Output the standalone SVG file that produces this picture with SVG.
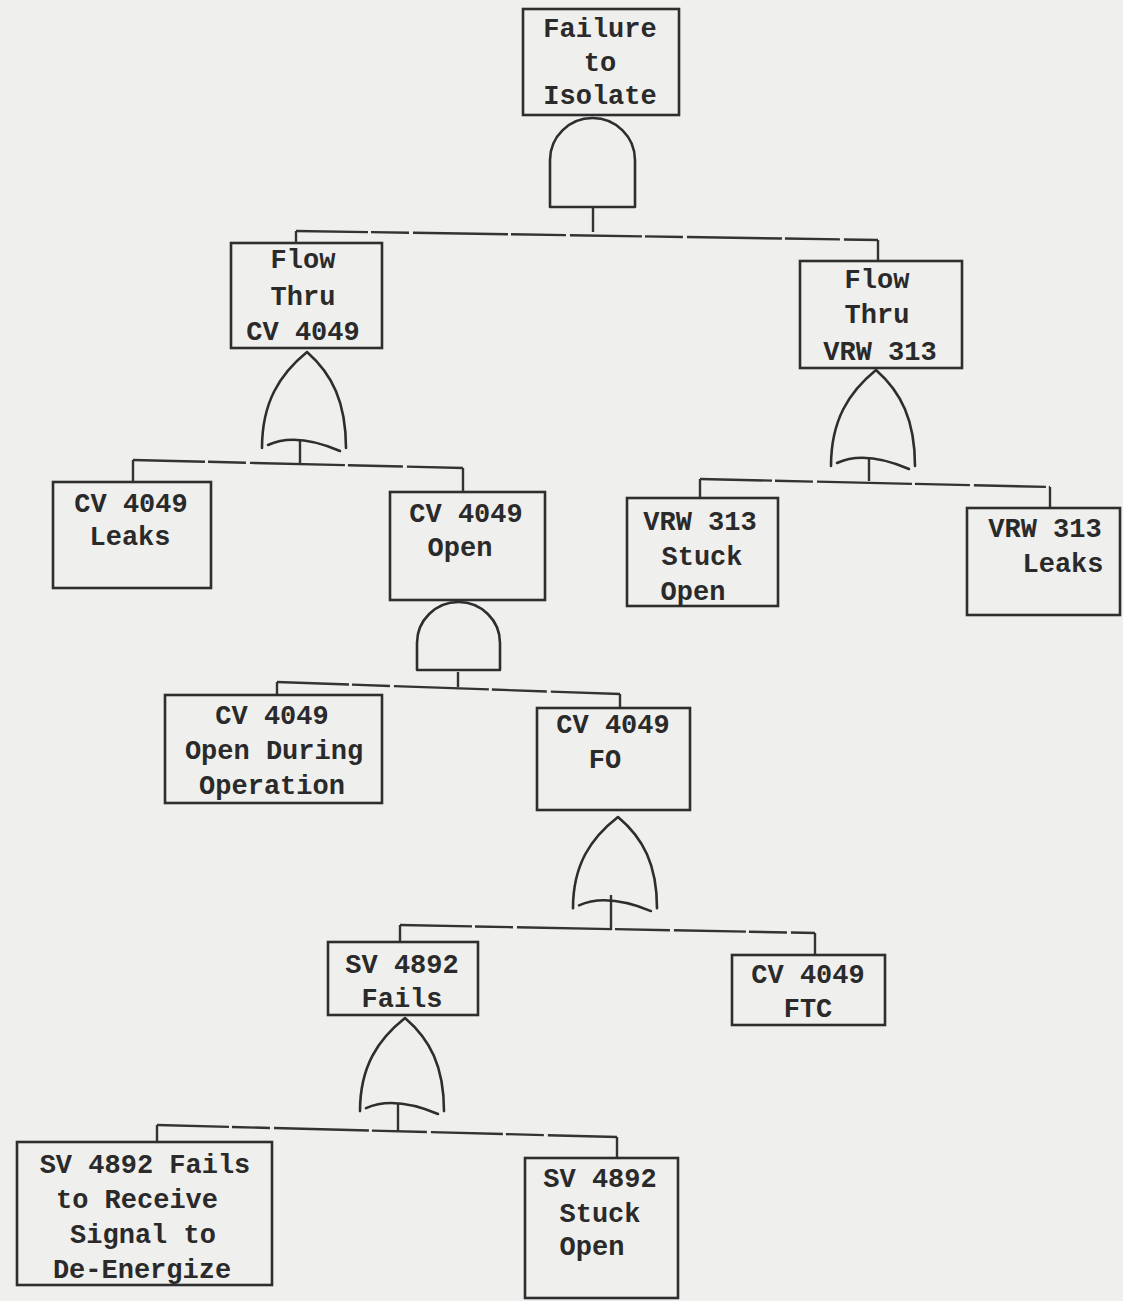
<svg xmlns="http://www.w3.org/2000/svg" xmlns:xlink="http://www.w3.org/1999/xlink" width="1123" height="1301" viewBox="0 0 1123 1301">
  <style>
    .box { fill: none; stroke: #2e2e2e; stroke-width: 2.6; }
    .gate { fill: none; stroke: #2e2e2e; stroke-width: 2.6; stroke-linejoin: round; stroke-linecap: round; }
    .wire { fill: none; stroke: #333333; stroke-width: 2.4; }
    .dash { stroke-dasharray: 72 3 38 4 95 3 55 4; }
    .lbl { font-family: "Liberation Mono", "DejaVu Sans Mono", monospace; font-size: 27px; font-weight: bold; fill: #2a2a2a; text-anchor: middle; }
  </style>
  <defs>
    <!-- OR gate, origin at the output stem x, apex row -->
    <path id="orGate" class="gate" d="M-38,96 C-38,50 -20,22 7,0 C32,22 46,50 46,96 M-32,93 Q-4,80 40,99"/>
  </defs>

  <rect x="0" y="0" width="1123" height="1301" fill="#efefed"/>

  <!-- connectors -->
  <g id="connectors">
    <!-- top AND output -->
    <line class="wire" x1="593" y1="207" x2="593" y2="232"/>
    <path class="wire dash" d="M296,231 L878,240"/>
    <line class="wire" x1="296" y1="231" x2="296" y2="243"/>
    <line class="wire" x1="878" y1="240" x2="878" y2="261"/>

    <!-- Flow Thru CV 4049 OR -->
    <line class="wire" x1="300" y1="440" x2="300" y2="464"/>
    <path class="wire dash" d="M133,460 L463,468"/>
    <line class="wire" x1="133" y1="460" x2="133" y2="482"/>
    <line class="wire" x1="463" y1="468" x2="463" y2="492"/>

    <!-- Flow Thru VRW 313 OR -->
    <line class="wire" x1="869" y1="458" x2="869" y2="481"/>
    <path class="wire dash" d="M700,479 L1050,487"/>
    <line class="wire" x1="700" y1="479" x2="700" y2="498"/>
    <line class="wire" x1="1050" y1="487" x2="1050" y2="508"/>

    <!-- CV 4049 Open AND -->
    <line class="wire" x1="458" y1="672" x2="458" y2="687"/>
    <path class="wire dash" d="M277,682 L620,694"/>
    <line class="wire" x1="277" y1="682" x2="277" y2="695"/>
    <line class="wire" x1="620" y1="694" x2="620" y2="708"/>

    <!-- CV 4049 FO OR -->
    <line class="wire" x1="611" y1="895" x2="611" y2="930"/>
    <path class="wire dash" d="M400,925 L815,933"/>
    <line class="wire" x1="400" y1="925" x2="400" y2="942"/>
    <line class="wire" x1="815" y1="933" x2="815" y2="955"/>

    <!-- SV 4892 Fails OR -->
    <line class="wire" x1="398" y1="1103" x2="398" y2="1131"/>
    <path class="wire dash" d="M157,1125 L617,1137"/>
    <line class="wire" x1="157" y1="1125" x2="157" y2="1142"/>
    <line class="wire" x1="617" y1="1137" x2="617" y2="1158"/>
  </g>

  <!-- gates -->
  <g id="gate-and-top">
    <path class="gate" d="M550,207 L550,160 A42.5,42 0 0 1 635,160 L635,207 Z"/>
  </g>
  <g id="gate-or-cv">
    <use href="#orGate" xlink:href="#orGate" transform="translate(300,352)"/>
  </g>
  <g id="gate-or-vrw">
    <use href="#orGate" xlink:href="#orGate" transform="translate(869,370)"/>
  </g>
  <g id="gate-and-open">
    <path class="gate" d="M417,670 L417,643 A41.5,41 0 0 1 500,643 L500,670 Z"/>
  </g>
  <g id="gate-or-fo">
    <use href="#orGate" xlink:href="#orGate" transform="translate(611,817) scale(1,0.95)"/>
  </g>
  <g id="gate-or-sv">
    <use href="#orGate" xlink:href="#orGate" transform="translate(398,1018) scale(1,0.97)"/>
  </g>

  <!-- events -->
  <g id="failure-to-isolate">
    <rect class="box" x="523" y="9" width="156" height="106"/>
    <text class="lbl" x="600" y="37">Failure</text>
    <text class="lbl" x="600" y="71">to</text>
    <text class="lbl" x="600" y="104">Isolate</text>
  </g>
  <g id="flow-thru-cv4049">
    <rect class="box" x="231" y="243" width="151" height="105"/>
    <text class="lbl" x="303" y="268">Flow</text>
    <text class="lbl" x="303" y="305">Thru</text>
    <text class="lbl" x="303" y="340">CV 4049</text>
  </g>
  <g id="flow-thru-vrw313">
    <rect class="box" x="800" y="261" width="162" height="107"/>
    <text class="lbl" x="877" y="288">Flow</text>
    <text class="lbl" x="877" y="323">Thru</text>
    <text class="lbl" x="880" y="360">VRW 313</text>
  </g>
  <g id="cv4049-leaks">
    <rect class="box" x="53" y="482" width="158" height="106"/>
    <text class="lbl" x="131" y="512">CV 4049</text>
    <text class="lbl" x="130" y="545">Leaks</text>
  </g>
  <g id="cv4049-open">
    <rect class="box" x="390" y="492" width="155" height="108"/>
    <text class="lbl" x="466" y="522">CV 4049</text>
    <text class="lbl" x="460" y="556">Open</text>
  </g>
  <g id="vrw313-stuck-open">
    <rect class="box" x="627" y="498" width="151" height="108"/>
    <text class="lbl" x="700" y="530">VRW 313</text>
    <text class="lbl" x="702" y="565">Stuck</text>
    <text class="lbl" x="693" y="600">Open</text>
  </g>
  <g id="vrw313-leaks">
    <rect class="box" x="967" y="508" width="153" height="107"/>
    <text class="lbl" x="1045" y="537">VRW 313</text>
    <text class="lbl" x="1063" y="572">Leaks</text>
  </g>
  <g id="cv4049-open-during-operation">
    <rect class="box" x="165" y="695" width="217" height="108"/>
    <text class="lbl" x="272" y="724">CV 4049</text>
    <text class="lbl" x="274" y="759">Open During</text>
    <text class="lbl" x="272" y="794">Operation</text>
  </g>
  <g id="cv4049-fo">
    <rect class="box" x="537" y="708" width="153" height="102"/>
    <text class="lbl" x="613" y="733">CV 4049</text>
    <text class="lbl" x="605" y="768">FO</text>
  </g>
  <g id="sv4892-fails">
    <rect class="box" x="328" y="942" width="150" height="73"/>
    <text class="lbl" x="402" y="973">SV 4892</text>
    <text class="lbl" x="402" y="1007">Fails</text>
  </g>
  <g id="cv4049-ftc">
    <rect class="box" x="732" y="955" width="153" height="70"/>
    <text class="lbl" x="808" y="983">CV 4049</text>
    <text class="lbl" x="808" y="1017">FTC</text>
  </g>
  <g id="sv4892-fails-to-receive-signal">
    <rect class="box" x="17" y="1142" width="255" height="143"/>
    <text class="lbl" x="145" y="1173">SV 4892 Fails</text>
    <text class="lbl" x="137" y="1208">to Receive</text>
    <text class="lbl" x="143" y="1243">Signal to</text>
    <text class="lbl" x="142" y="1278">De-Energize</text>
  </g>
  <g id="sv4892-stuck-open">
    <rect class="box" x="525" y="1158" width="153" height="140"/>
    <text class="lbl" x="600" y="1187">SV 4892</text>
    <text class="lbl" x="600" y="1222">Stuck</text>
    <text class="lbl" x="592" y="1255">Open</text>
  </g>
</svg>
